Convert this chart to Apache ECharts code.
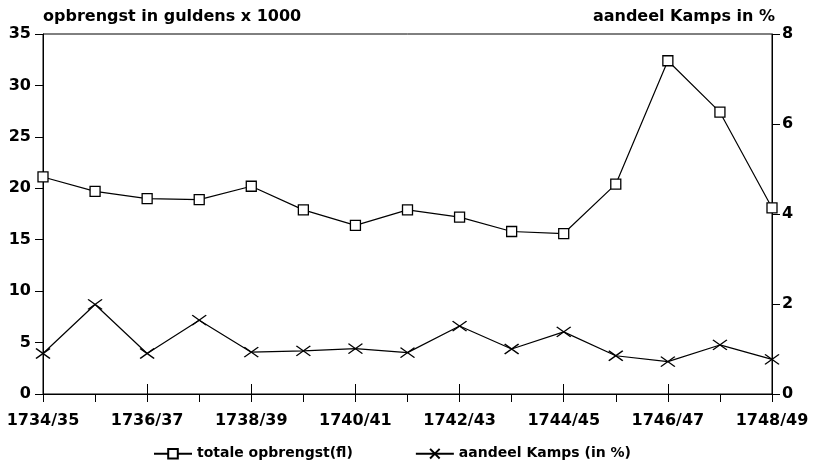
<!DOCTYPE html>
<html>
<head>
<meta charset="utf-8">
<script src="https://cdn.jsdelivr.net/npm/echarts@6/dist/echarts.min.js"></script>
<style>html,body{margin:0;padding:0;background:#fff}#c{width:815px;height:471px}</style>
</head>
<body>
<div id="c"></div>
<script>
var categories = ['1734/35','1735/36','1736/37','1737/38','1738/39','1739/40','1740/41','1741/42','1742/43','1743/44','1744/45','1745/46','1746/47','1747/48','1748/49'];
var opbrengst = [21.1, 19.7, 19.0, 18.9, 20.2, 17.9, 16.4, 17.9, 17.2, 15.8, 15.6, 20.4, 32.4, 27.4, 18.1];
var aandeel = [0.90, 1.99, 0.90, 1.64, 0.93, 0.96, 1.01, 0.92, 1.51, 1.00, 1.38, 0.85, 0.72, 1.09, 0.77];
var leftTicks = [0, 35, 5];
var rightTicks = [0, 8, 2];

var FONT = 'DejaVu Sans';
var txt = {fontFamily: FONT, fontWeight: 'bold', color: '#000'};
var chart = echarts.init(document.getElementById('c'));
chart.setOption({
  animation: false,
  backgroundColor: '#fff',
  grid: {left: 43, right: 43, top: 34, bottom: 77, show: true, borderColor: '#000', borderWidth: 1},
  legend: {
    bottom: 5, left: 148, itemWidth: 38, itemHeight: 12, itemGap: 62,
    textStyle: {fontFamily: FONT, fontWeight: 'bold', fontSize: 14, color: '#000'},
    data: ['totale opbrengst(fl)', 'aandeel Kamps (in %)']
  },
  xAxis: [{
    type: 'category', data: categories, boundaryGap: false,
    axisLine: {lineStyle: {color: '#000', width: 1}},
    axisTick: {show: true, length: 8, interval: 0, lineStyle: {color: '#000'}},
    axisLabel: Object.assign({interval: 1, margin: 19, fontSize: 16}, txt),
    splitLine: {show: false}
  }, {
    type: 'category', data: categories, boundaryGap: false, position: 'bottom',
    axisLine: {show: false},
    axisTick: {show: true, inside: true, length: 10, interval: 1, lineStyle: {color: '#000'}},
    axisLabel: {show: false}, splitLine: {show: false}
  }],
  yAxis: [{
    type: 'value', min: leftTicks[0], max: leftTicks[1], interval: leftTicks[2],
    name: 'opbrengst in guldens x 1000', nameLocation: 'end', nameGap: 9,
    nameTextStyle: Object.assign({align: 'left', fontSize: 16}, txt),
    axisLine: {show: true, lineStyle: {color: '#000'}},
    axisTick: {show: true, length: 8, lineStyle: {color: '#000'}},
    axisLabel: Object.assign({margin: 12, fontSize: 16}, txt),
    splitLine: {show: false}
  }, {
    type: 'value', min: rightTicks[0], max: rightTicks[1], interval: rightTicks[2], position: 'right',
    name: 'aandeel Kamps in %', nameLocation: 'end', nameGap: 9,
    nameTextStyle: Object.assign({align: 'right', fontSize: 16, padding: [0, -3, 0, 0]}, txt),
    axisLine: {show: true, lineStyle: {color: '#000'}},
    axisTick: {show: true, length: 8, lineStyle: {color: '#000'}},
    axisLabel: Object.assign({margin: 10, fontSize: 16}, txt),
    splitLine: {show: false}
  }],
  series: [{
    name: 'totale opbrengst(fl)', type: 'line', yAxisIndex: 0, data: opbrengst,
    symbol: 'rect', symbolSize: 10, showAllSymbol: true,
    lineStyle: {color: '#000', width: 1.2},
    itemStyle: {color: '#fff', borderColor: '#000', borderWidth: 1.3}
  }, {
    name: 'aandeel Kamps (in %)', type: 'line', yAxisIndex: 1, data: aandeel,
    symbol: 'path://M0,0L14,10M14,0L0,10', symbolSize: [14, 10], symbolKeepAspect: false, showAllSymbol: true,
    lineStyle: {color: '#000', width: 1.2},
    itemStyle: {color: 'none', borderColor: '#000', borderWidth: 1.3}
  }]
});
</script>
</body>
</html>
